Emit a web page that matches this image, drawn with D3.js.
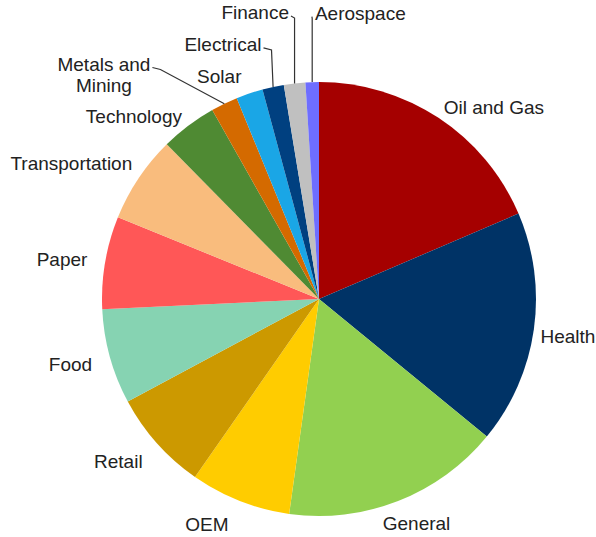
<!DOCTYPE html>
<html><head><meta charset="utf-8">
<script src="https://cdn.jsdelivr.net/npm/d3@7"></script>
<style>body{margin:0;background:#fff}svg{display:block}</style></head>
<body><svg id="c" width="596" height="537"></svg>
<script>
// ---- data ----
const categories = ["Oil and Gas","Health","General","OEM","Retail","Food","Paper","Transportation","Technology","Metals and Mining","Solar","Electrical","Finance","Aerospace"];
const values = [18.6,17.4,16.3,7.5,7.5,7.1,6.9,6.5,4.2,2.0,2.0,1.6,1.6,1.0];
const colors = ["#a50000","#003366","#92d050","#ffcc00","#cc9900","#86d3b2","#ff5757","#f9bc7d","#4f8a33","#d46a00","#1aa6e6","#004080","#c0c0c0","#6e6eff"];
const labelLines = [["Oil and Gas"],["Health"],["General"],["OEM"],["Retail"],["Food"],["Paper"],["Transportation"],["Technology"],["Metals and","Mining"],["Solar"],["Electrical"],["Finance"],["Aerospace"]];

// ---- layout ----
const W = 596, H = 537, cx = 319, cy = 299, R = 217, gap = 14;
const labelNudge = [[20,8],[-7,4],[1,2],[-20,3],[-10,4],[-5,1.5],[-4,1],[-5,-2.5],[-17,8],[-94,0],[-18.5,3.5],[-39,-21],[-34,-49],[50,-47]];
const hasLeader = [false,false,false,false,false,false,false,false,false,true,false,true,true,true];
const fontSize = 19, lineH = 21;

const svg = d3.select("#c");
const g = svg.append("g").attr("transform", `translate(${cx},${cy})`);
const data = categories.map((c,i)=>({name:c, value:values[i], color:colors[i], lines:labelLines[i], nudge:labelNudge[i], leader:hasLeader[i]}));
const pie = d3.pie().sort(null).value(d=>d.value);
const arc = d3.arc().innerRadius(0).outerRadius(R);
const arcs = pie(data);

g.selectAll("path.slice").data(arcs).join("path")
  .attr("class","slice").attr("d", arc).attr("fill", d=>d.data.color);

const lab = g.append("g").attr("font-family","'Liberation Sans', Arial, sans-serif")
  .attr("font-size", fontSize).attr("fill","#222");
const lineG = g.append("g");

arcs.forEach(a=>{
  const th = (a.startAngle + a.endAngle)/2;
  const s = Math.sin(th), c = Math.cos(th);
  const t = lab.append("text").attr("text-anchor","middle");
  const n = a.data.lines.length;
  a.data.lines.forEach((ln,k)=>{
    t.append("tspan").attr("x",0).attr("dy", k===0 ? 0 : lineH).text(ln);
  });
  const bb = t.node().getBBox();
  const w = bb.width, h = 16 + (n-1)*lineH;
  const px = (R+gap)*s, py = -(R+gap)*c;
  const mx = px + w/2*s + a.data.nudge[0];
  const my = py - h/2*c + a.data.nudge[1];
  const baseY = my - (n-1)*lineH/2 + 6.5;
  t.attr("transform", `translate(${mx},${baseY})`);
  if (a.data.leader) {
    const ax = R*s, ay = -R*c;
    let sx;
    const firstW = t.select("tspan").node().getComputedTextLength();
    if (mx < ax - 5) { sx = mx + firstW/2 + 2; } else if (mx > ax + 5) { sx = mx - firstW/2 - 3; } else { sx = mx; }
    const sy = baseY - 3;
    const dir = ax > sx ? 1 : -1;
    const bx = sx + dir*Math.min(8, Math.abs(ax - sx));
    lineG.append("polyline")
      .attr("points", `${sx},${sy} ${bx},${sy + 2} ${ax},${ay}`)
      .attr("fill","none").attr("stroke","#333").attr("stroke-width",1.2);
  }
});
</script></body></html>
